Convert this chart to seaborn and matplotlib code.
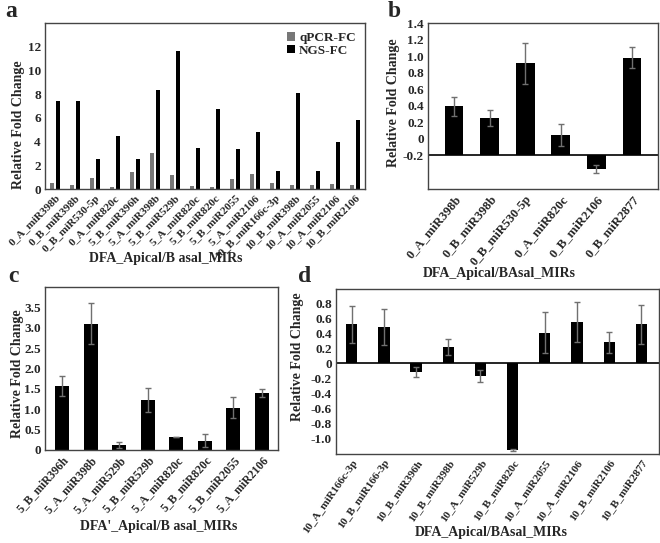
import matplotlib
matplotlib.use('Agg')
import matplotlib.pyplot as plt
import numpy as np
import pandas as pd
import seaborn as sns

# panel a: qPCR vs NGS fold change
a_labels = ['0_A_miR398b', '0_B_miR398b', '0_B_miR530-5p', '0_A_miR820c', '5_B_miR396h',
            '5_A_miR398b', '5_B_miR529b', '5_A_miR820c', '5_B_miR820c', '5_B_miR2055',
            '5_A_miR2106', '10_B_miR166c-3p', '10_B_miR398b', '10_A_miR2055', '10_A_miR2106',
            '10_B_miR2106']
a_qpcr = [0.51, 0.34, 0.96, 0.14, 1.45, 3.0, 1.16, 0.23, 0.14, 0.88, 1.25, 0.51, 0.34, 0.34, 0.45, 0.34]
a_ngs = [7.38, 7.38, 2.55, 4.43, 2.55, 8.31, 11.63, 3.49, 6.72, 3.40, 4.77, 1.53, 8.11, 1.53, 3.94, 5.79]

# panel b
b_labels = ['0_A_miR398b', '0_B_miR398b', '0_B_miR530-5p', '0_A_miR820c', '0_B_miR2106', '0_B_miR2877']
b_values = [0.39, 0.25, 0.91, 0.04, -0.37, 0.98]
b_err = [0.12, 0.10, 0.25, 0.135, 0.05, 0.13]

# panel c
c_labels = ['5_B_miR396h', '5_A_miR398b', '5_A_miR529b', '5_B_miR529b', '5_A_miR820c',
            '5_B_miR820c', '5_B_miR2055', '5_A_miR2106']
c_values = [1.57, 3.10, 0.12, 1.23, 0.32, 0.23, 1.04, 1.40]
c_err = [0.25, 0.51, 0.07, 0.30, 0.01, 0.16, 0.26, 0.10]

# panel d
d_labels = ['10_A_miR166c-3p', '10_B_miR166-3p', '10_B_miR396h', '10_B_miR398b', '10_A_miR529b',
            '10_B_miR820c', '10_A_miR2055', '10_A_miR2106', '10_B_miR2106', '10_B_miR2877']
d_values = [0.52, 0.48, -0.12, 0.22, -0.165, -1.16, 0.41, 0.55, 0.28, 0.52]
d_err = [0.25, 0.24, 0.065, 0.11, 0.08, 0.015, 0.275, 0.27, 0.14, 0.26]

sns.set_theme(style='white')
plt.rcParams['font.family'] = ['Liberation Serif', 'DejaVu Serif']
plt.rcParams['font.weight'] = 'bold'
plt.rcParams['axes.labelweight'] = 'bold'

W, H = 660, 543
fig = plt.figure(figsize=(W / 100, H / 100), dpi=100)


def box(l, r, t, b):
    return fig.add_axes([l / W, 1 - b / H, (r - l) / W, (b - t) / H])


def fmt(v):
    return '0' if abs(v) < 1e-9 else '%.1f' % v


def style(ax, labels, rot, fs, xlabel, xl_pos, yl_pos, yticks, ticklabels):
    for s in ax.spines.values():
        s.set_color('#444444')
        s.set_linewidth(1)
    ax.set_xticks(range(len(labels)))
    ax.set_xticklabels(labels, rotation=rot, ha='right', rotation_mode='anchor',
                       fontsize=fs, fontweight='bold')
    ax.tick_params(axis='x', length=0, pad=3)
    ax.set_yticks(yticks)
    ax.set_yticklabels(ticklabels, fontsize=9.5, fontweight='bold')
    ax.tick_params(axis='y', direction='in', length=3, width=0.8, color='#444444', pad=3)
    ax.set_xlabel(xlabel, fontsize=10, fontweight='bold')
    ax.set_ylabel('Relative Fold Change', fontsize=10, fontweight='bold')
    ax.xaxis.set_label_coords(*xl_pos)
    ax.xaxis.label.set_va('center')
    ax.yaxis.set_label_coords(*yl_pos)
    ax.yaxis.label.set_va('center')


def bar_panel(ax, labels, values, err, width, baseline=0.0):
    sns.barplot(x=labels, y=values, color='black', width=width, saturation=1,
                linewidth=0, ax=ax)
    if baseline:
        for p in ax.patches:
            h = p.get_height()
            p.set_y(baseline)
            p.set_height(h - baseline)
    xs = [p.get_x() + p.get_width() / 2 for p in ax.patches]
    ax.errorbar(xs, values, yerr=err, fmt='none', ecolor='#707070', elinewidth=1,
                capsize=2.5, capthick=1)


# a
ax = box(45, 365, 23, 189)
df = pd.DataFrame({'mir': a_labels * 2,
                   'fc': a_qpcr + a_ngs,
                   'kind': ['qPCR-FC'] * len(a_labels) + ['NGS-FC'] * len(a_labels)})
sns.barplot(data=df, x='mir', y='fc', hue='kind', palette={'qPCR-FC': '#777777', 'NGS-FC': 'black'},
            width=0.55, gap=0.25, saturation=1, linewidth=0, ax=ax)
ax.set_xlim(-0.5, 15.5)
ax.set_ylim(0, 14)
style(ax, a_labels, 45, 8, 'DFA_Apical/B asal_MIRs', (0.378, -0.42), (-0.084, 0.39),
      range(0, 13, 2), [str(v) for v in range(0, 13, 2)])
ax.legend(frameon=False, loc='upper right', handlelength=0.6, handleheight=0.6,
          handletextpad=0.3, labelspacing=0.05, borderaxespad=0.3,
          prop={'family': 'Liberation Serif', 'weight': 'bold', 'size': 9.5})

# b
ax = box(428, 658, 23, 189)
bar_panel(ax, b_labels, b_values, b_err, 0.53, baseline=-0.2)
ax.axhline(-0.2, color='black', lw=1.2)
ax.set_xlim(-0.73, 5.73)
ax.set_ylim(-0.61, 1.4)
bt = np.round(np.arange(-0.4, 1.41, 0.2), 1)
style(ax, b_labels, 50, 9.2, 'DFA_Apical/BAsal_MIRs', (0.31, -0.51), (-0.152, 0.52),
      bt, ['' if v < -0.3 else fmt(v) for v in bt])

# c
ax = box(45, 278, 287, 450)
bar_panel(ax, c_labels, c_values, c_err, 0.49)
ax.set_xlim(-0.6, 7.57)
ax.set_ylim(0, 4.0)
ct = np.round(np.arange(0, 3.51, 0.5), 1)
style(ax, c_labels, 48, 8.5, "DFA'_Apical/B asal_MIRs", (0.49, -0.47), (-0.12, 0.47),
      ct, [fmt(v) for v in ct])

# d
ax = box(336, 659, 289, 454)
bar_panel(ax, d_labels, d_values, d_err, 0.35)
ax.axhline(0, color='black', lw=1.2)
ax.set_xlim(-0.49, 9.55)
ax.set_ylim(-1.21, 0.99)
dt = np.round(np.arange(-1.0, 0.81, 0.2), 1)
style(ax, d_labels, 55, 8, 'DFA_Apical/BAsal_MIRs', (0.48, -0.475), (-0.118, 0.59),
      dt, [fmt(v) for v in dt])

for x, y, t in [(5, 17, 'a'), (388, 17, 'b'), (8, 282, 'c'), (298, 282, 'd')]:
    fig.text(x / W, 1 - y / H, t, fontsize=17, fontweight='bold', va='baseline', ha='left')

fig.savefig('out.png', dpi=100)
